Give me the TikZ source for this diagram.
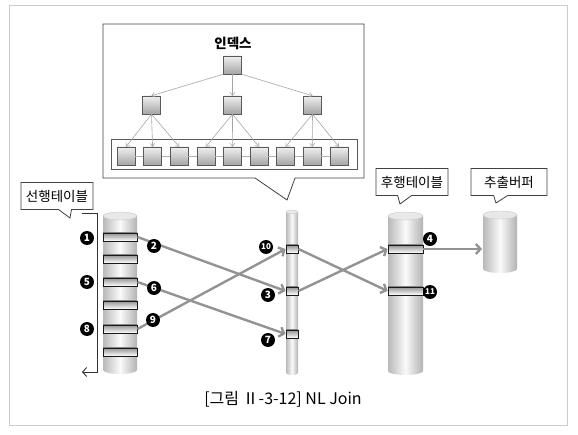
\documentclass[tikz,border=0pt]{standalone}
\usepackage{fontspec}
\setmainfont{Noto Sans CJK KR}
\usepackage{tikz}
\usetikzlibrary{arrows.meta}
\usetikzlibrary{shapes.callouts}

\tikzset{
	idxbox/.style={draw=black!65, top color=gray!12, bottom color=gray!70, minimum size=18pt, inner sep=0pt},
	tblbar/.style={draw=black!90, line width=0.9pt, top color=gray!85, bottom color=white, minimum height=8pt, inner sep=0pt},
	numdot/.style={circle, fill=black, text=white, inner sep=0pt, minimum size=14pt, font=\fontsize{10}{10}\selectfont\bfseries},
	flowarrow/.style={draw=gray!85, line width=2.4pt, -{Straight Barb[length=4.5pt, width=10pt]}},
	treearrow/.style={draw=gray!70, line width=0.6pt, -{Straight Barb[length=3pt, width=5pt]}},
	tagbox/.style={rectangle callout, draw=black!75, line width=0.8pt, fill=white, font=\fontsize{13.5}{15}\selectfont, inner sep=0pt, minimum height=27pt}
}

% cx, rx, ry, top, bottom
\newcommand{\drumcyl}[5]{%
	\shade [left color=gray!55, right color=gray!60, middle color=gray!4] (#1-#2,#4) -- (#1-#2,#5) arc (180:0:#2 and #3) -- (#1+#2,#4) -- cycle;
	\filldraw [fill=gray!18, draw=gray!45] (#1,#4) ellipse (#2 and #3);
}

\begin{document}
\begin{tikzpicture}[x=1pt, y=-1pt]
	\useasboundingbox (0,0) rectangle (578,435);
	\draw [gray!40, thin] (9,5) rectangle (567,425);

	%Index

	\node (idxcall) [tagbox, minimum width=261pt, minimum height=154pt, callout absolute pointer={(287,200)}, callout pointer width=40pt] at (233.5,101) {};
	\node (idxname) [font=\fontsize{13.5}{15}\selectfont\bfseries] at (233,43) {인덱스};

	\node (R) [idxbox] at (232.5,65) {};
	\node (I2) [idxbox, below of=R, node distance=40pt] {};
	\node (I1) [idxbox, left of=I2, node distance=81pt] {};
	\node (I3) [idxbox, right of=I2, node distance=80pt] {};

	\node (leafrow) [draw=black!65, line width=0.8pt, minimum width=246pt, minimum height=30pt] at (234,154) {};

	\node (L1) [idxbox] at (126,156) {};
	\node (L2) [idxbox, right of=L1, node distance=26.6pt] {};
	\node (L3) [idxbox, right of=L2, node distance=26.6pt] {};
	\node (L4) [idxbox, right of=L3, node distance=26.6pt] {};
	\node (L5) [idxbox, right of=L4, node distance=26.6pt] {};
	\node (L6) [idxbox, right of=L5, node distance=26.6pt] {};
	\node (L7) [idxbox, right of=L6, node distance=26.6pt] {};
	\node (L8) [idxbox, right of=L7, node distance=26.6pt] {};
	\node (L9) [idxbox, right of=L8, node distance=26.6pt] {};

	\draw [gray!60, line width=0.8pt] (L1) -- (L2) (L2) -- (L3) (L3) -- (L4) (L4) -- (L5) (L5) -- (L6) (L6) -- (L7) (L7) -- (L8) (L8) -- (L9);

	\draw [treearrow] (R.south west) -- (I1.north);
	\draw [treearrow] (R.south) -- (I2.north);
	\draw [treearrow] (R.south east) -- (I3.north);
	\draw [treearrow] (I1.south) -- (L1.north);
	\draw [treearrow] (I1.south) -- (L2.north);
	\draw [treearrow] (I1.south) -- (L3.north);
	\draw [treearrow] (I2.south) -- (L4.north);
	\draw [treearrow] (I2.south) -- (L5.north);
	\draw [treearrow] (I2.south) -- (L6.north);
	\draw [treearrow] (I3.south) -- (L7.north);
	\draw [treearrow] (I3.south) -- (L8.north);
	\draw [treearrow] (I3.south) -- (L9.north);

	%Tags

	\node (outerT) [tagbox, minimum width=72pt, callout absolute pointer={(70,218)}, callout pointer width=13pt] at (57,196) {선행테이블};
	\node (innerT) [tagbox, minimum width=72pt, callout absolute pointer={(400,204)}, callout pointer width=14pt] at (412,182) {후행테이블};
	\node (bufT) [tagbox, minimum width=76pt, callout absolute pointer={(496,203)}, callout pointer width=14pt] at (509,182) {추출버퍼};

	%Cylinders

	\drumcyl{120}{17}{4}{216}{370}
	\drumcyl{292}{6}{2}{212}{373}
	\drumcyl{405.5}{17.5}{4}{216}{371}
	\drumcyl{500}{17}{4}{215}{269}
	\coordinate (bufW) at (482,249);

	\node (LB1) [tblbar, minimum width=34pt] at (120,237) {};
	\node (LB2) [tblbar, minimum width=34pt] at (120,259) {};
	\node (LB3) [tblbar, minimum width=34pt] at (120,282) {};
	\node (LB4) [tblbar, minimum width=34pt] at (120,305) {};
	\node (LB5) [tblbar, minimum width=34pt] at (120,329) {};
	\node (LB6) [tblbar, minimum width=34pt] at (120,352) {};

	\node (MB1) [tblbar, minimum width=12pt] at (292,249) {};
	\node (MB2) [tblbar, minimum width=12pt] at (292,291) {};
	\node (MB3) [tblbar, minimum width=12pt] at (292,334) {};

	\node (RB1) [tblbar, minimum width=35pt] at (405.5,249) {};
	\node (RB2) [tblbar, minimum width=35pt] at (405.5,291) {};

	%Flow

	\draw [flowarrow] (LB1.east) -- (MB2.west);
	\draw [flowarrow] (MB2.east) -- (RB1.west);
	\draw [flowarrow] (RB1.east) -- (bufW);
	\draw [flowarrow] (LB3.east) -- (MB3.west);
	\draw [flowarrow] (LB5.east) -- (MB1.west);
	\draw [flowarrow] (MB1.east) -- (RB2.west);

	\node (n1) [numdot] at (87,238) {1};
	\node (n5) [numdot] at (87,282) {5};
	\node (n8) [numdot] at (87,329) {8};
	\node (n2) [numdot] at (154,246) {2};
	\node (n6) [numdot] at (154,288) {6};
	\node (n9) [numdot] at (153,320) {9};
	\node (n10) [numdot, font=\fontsize{8}{8}\selectfont\bfseries] at (266,247) {10};
	\node (n3) [numdot] at (268,295) {3};
	\node (n7) [numdot] at (268,340) {7};
	\node (n4) [numdot] at (430,239) {4};
	\node (n11) [numdot, font=\fontsize{8}{8}\selectfont\bfseries] at (430,292) {11};

	%Scan

	\coordinate (brtop) at (82,213);
	\coordinate (brbot) at (82,372);
	\draw [black!80, line width=0.9pt, -{Straight Barb[length=4pt, width=9pt]}] (brtop) -- ++(15,0) |- (brbot);

	\node (caption) [font=\fontsize{16}{18}\selectfont] at (283,399) {[그림 Ⅱ-3-12] NL Join};
\end{tikzpicture}
\end{document}
